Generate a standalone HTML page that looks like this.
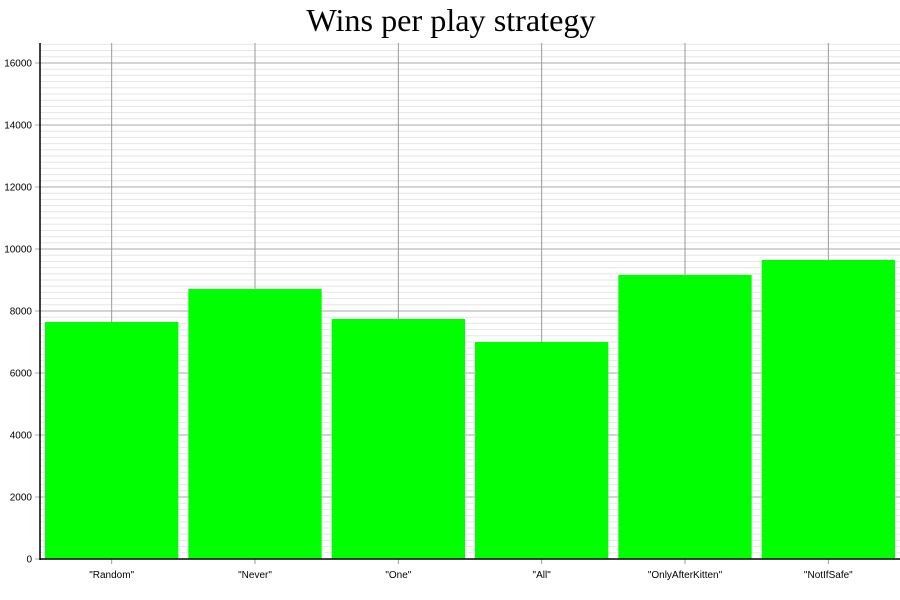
<!DOCTYPE html>
<html><head><meta charset="utf-8"><style>
body{margin:0;background:#fff}
svg{display:block}
text{font-family:"Liberation Sans",Arial,sans-serif}
</style></head><body>
<svg id="chart" width="900" height="600">
<text x="451" y="31" text-anchor="middle" font-size="32.2" style="font-family:'Liberation Serif',serif">Wins per play strategy</text>
<g id="grid"></g><g id="bars"></g><g id="axes"></g>
</svg>
<script>
const categories=['"Random"','"Never"','"One"','"All"','"OnlyAfterKitten"','"NotIfSafe"'];
const values=[7645,8710,7742,7000,9161,9645];
const yTicks=[0,2000,4000,6000,8000,10000,12000,14000,16000];
const NS='http://www.w3.org/2000/svg';
const X0=40,X1=900,Y0=559,YT=43,YMAX=16645;
const y=v=>Y0-(v/YMAX)*(Y0-YT);
const bw=(X1-X0)/categories.length;
const xc=i=>X0+bw*(i+0.5);
function mk(t,a,p){const e=document.createElementNS(NS,t);for(const k in a)e.setAttribute(k,a[k]);p.appendChild(e);return e;}
const grid=document.getElementById('grid'),bars=document.getElementById('bars'),axes=document.getElementById('axes');
for(let v=200;v<=YMAX;v+=200){if(v%2000===0)continue;const l=mk('line',{x1:X0,x2:X1,y1:y(v),y2:y(v),stroke:'#e6e6e6','stroke-width':1},grid);

}
yTicks.forEach(v=>{const l=mk('line',{x1:X0-5,x2:X1,y1:y(v),y2:y(v),stroke:'#aaa','stroke-width':1},grid);


const t=mk('text',{x:X0-8,y:y(v)+3.5,'text-anchor':'end','font-size':10},axes);t.textContent=v;

});
categories.forEach((c,i)=>{const l=mk('line',{x1:xc(i),x2:xc(i),y1:YT,y2:Y0+5,stroke:'#999','stroke-width':1},grid);


const r=mk('rect',{x:xc(i)-bw/2+5,y:y(values[i]),width:bw-10,height:Y0-y(values[i]),fill:'#00ff00'},bars);


const t=mk('text',{x:xc(i),y:Y0+19,'text-anchor':'middle','font-size':10},axes);t.textContent=c;

});
const ya=mk('line',{x1:X0,x2:X0,y1:YT,y2:Y0+1,stroke:'#000','stroke-width':1.5},axes);


const xa=mk('line',{x1:X0,x2:X1,y1:Y0,y2:Y0,stroke:'#000','stroke-width':1.5},axes);


</script>
</body></html>
